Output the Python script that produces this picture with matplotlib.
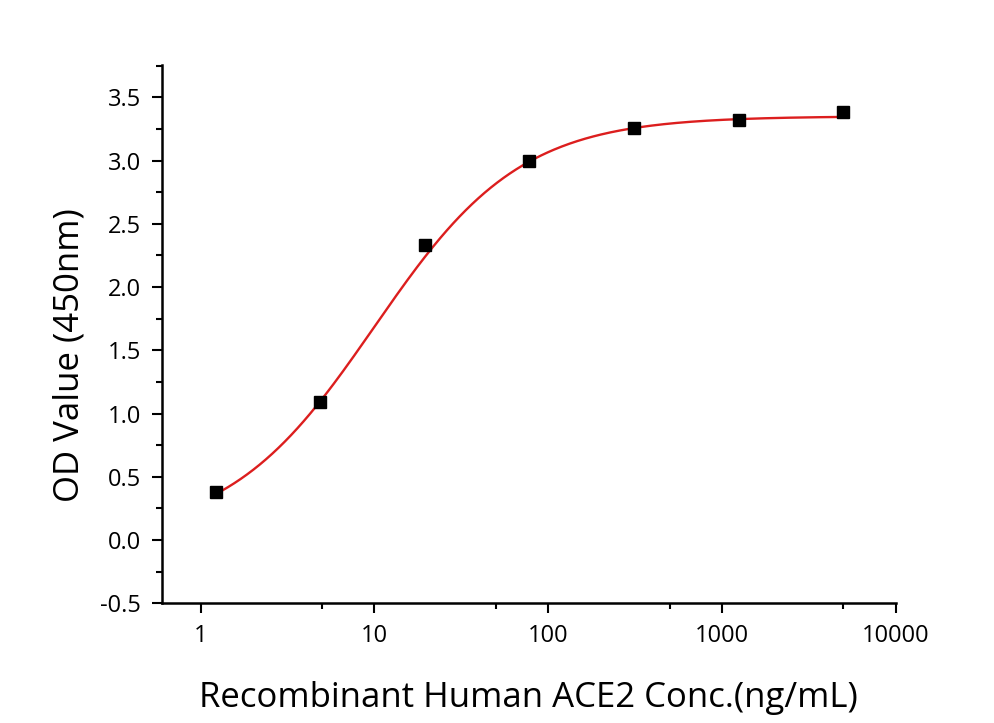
import numpy as np
import matplotlib.pyplot as plt
from matplotlib.ticker import FixedLocator, NullFormatter


# Data
conc = [1.22, 4.88, 19.53, 78.13, 312.5, 1250, 5000]
od = [0.38, 1.09, 2.33, 3.00, 3.26, 3.32, 3.38]

# 4PL fit parameters (estimated from the drawn curve)
fit_bottom = 0.02
fit_top = 3.35
fit_ec50 = 10.0
fit_hill = 1.03

x_ticks = [1, 10, 100, 1000, 10000]
x_ticklabels = ['1', '10', '100', '1000', '10000']
y_ticks = [-0.5, 0.0, 0.5, 1.0, 1.5, 2.0, 2.5, 3.0, 3.5]

plt.rcParams['font.family'] = ['Open Sans', 'DejaVu Sans']

fig = plt.figure(figsize=(9.95, 7.23), dpi=100)
ax = fig.add_axes([0.1628, 0.1656, 0.9002 - 0.1628, 0.9101 - 0.1656])

xs = np.logspace(np.log10(conc[0]), np.log10(conc[-1]), 400)
ys = fit_top + (fit_bottom - fit_top) / (1 + (xs / fit_ec50) ** fit_hill)

ax.plot(xs, ys, color='#dc1e1e', lw=1.7, zorder=2)
ax.plot(conc, od, 's', color='black', ms=8.8, zorder=3)

ax.set_xscale('log')
ax.set_xlim(0.6, 10000)
ax.set_ylim(-0.5, 3.755)

ax.xaxis.set_major_locator(FixedLocator(x_ticks))
ax.set_xticklabels(x_ticklabels)
ax.xaxis.set_minor_locator(FixedLocator([5, 50, 500, 5000]))
ax.xaxis.set_minor_formatter(NullFormatter())
ax.set_yticks(y_ticks)
ax.set_yticklabels([f'{v:.1f}' for v in y_ticks])
ax.yaxis.set_minor_locator(FixedLocator(np.arange(-0.25, 3.76, 0.5)))

for s in ['top', 'right']:
    ax.spines[s].set_visible(False)
for s in ['left', 'bottom']:
    ax.spines[s].set_linewidth(1.8)

ax.tick_params(which='major', direction='out', length=7, width=1.5, labelsize=17, pad=8)
ax.tick_params(which='minor', direction='out', length=4, width=1.5)

ax.set_xlabel('Recombinant Human ACE2 Conc.(ng/mL)', fontsize=25, labelpad=24)
ax.set_ylabel('OD Value (450nm)', fontsize=25, labelpad=10, y=0.461)

fig.savefig('out.png', dpi=100)
